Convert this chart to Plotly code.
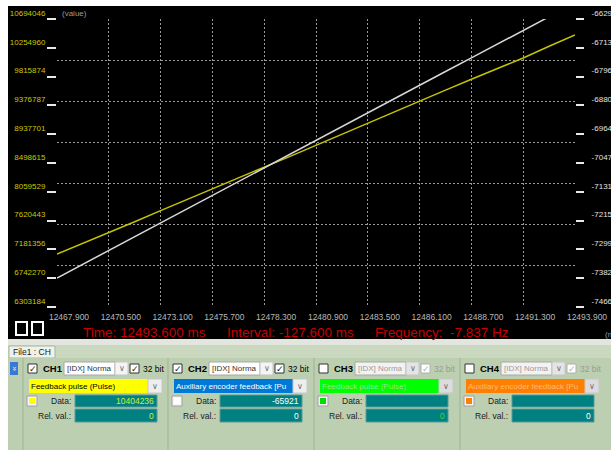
import plotly.graph_objects as go

# sample times (ms) and the two traced channels
time_ms = [12467.9, 12469.2, 12470.5, 12471.8, 12473.1, 12474.4, 12475.7, 12477.0,
           12478.3, 12479.6, 12480.9, 12482.2, 12483.5, 12484.8, 12486.1, 12487.4,
           12488.7, 12490.0, 12491.3, 12492.6, 12493.9]
ch1_pulse = [7111000, 7272000, 7440000, 7603000, 7772000, 7935000, 8101000, 8268000,
             8436000, 8600000, 8770000, 8933000, 9103000, 9270000, 9445000, 9610000,
             9775000, 9937000, 10100000, 10278000, 10450000]
ch2_aux = [-73821, -73420, -73010, -72625, -72225, -71820, -71420, -71025,
           -70620, -70225, -69825, -69420, -69020, -68625, -68225, -67820,
           -67425, -67025, -66625, -66225, -65830]

x_ticks = [12467.9, 12470.5, 12473.1, 12475.7, 12478.3, 12480.9,
           12483.5, 12486.1, 12488.7, 12491.3, 12493.9]
left_ticks = [6303184, 6742270, 7181356, 7620443, 8059529, 8498615,
              8937701, 9376787, 9815874, 10254960, 10694046]
right_ticks = [-74664, -73827, -72990, -72153, -71316, -70479,
               -69642, -68805, -67968, -67131, -66294]

# channel panel contents
channels = ["CH1", "CH2", "CH3", "CH4"]
signals = ["Feedback pulse (Pulse)", "Auxiliary encoder feedback [Pu",
           "Feedback pulse (Pulse)", "Auxiliary encoder feedback [Pu"]
data_vals = ["10404236", "-65921", "", ""]
rel_vals = ["0", "0", "0", "0"]
enabled = [True, True, False, False]

cursor_time = "Time: 12493.600 ms"
cursor_interval = "Interval: -127.600 ms"
cursor_freq = "-7.837 Hz"

# pixel -> paper helpers (plot area is 57..575 x 19..307)
L, R, T, B = 57, 575, 19, 307


def px(x):
    return (x - L) / (R - L)


def py(y):
    return (B - y) / (B - T)


shapes = []
annotations = []
FONT = "Liberation Sans"


def rect(x0, y0, x1, y1, fill, line=None, width=1):
    shapes.append(dict(type="rect", xref="paper", yref="paper", layer="below",
                       x0=px(x0), x1=px(x1), y0=py(y1), y1=py(y0), fillcolor=fill,
                       line=dict(color=line or fill, width=width if line else 0)))


def vline(x, y0, y1, color, width=1):
    shapes.append(dict(type="line", xref="paper", yref="paper", layer="below",
                       x0=px(x), x1=px(x), y0=py(y1), y1=py(y0),
                       line=dict(color=color, width=width)))


def text(x, y, s, size=8.5, color="#000000", anchor="left", bold=False, angle=0):
    annotations.append(dict(xref="paper", yref="paper", x=px(x), y=py(y),
                            text="<b>%s</b>" % s if bold else s, showarrow=False,
                            xanchor=anchor, yanchor="middle", textangle=angle,
                            font=dict(size=size, color=color, family=FONT)))


def checkbox(x, y, checked, disabled=False):
    rect(x, y, x + 9, y + 9, "#ffffff", "#b0b0b0" if disabled else "#333333")
    if checked:
        text(x + 4.5, y + 4.5, "✓", size=9, color="#b0b0b0" if disabled else "#222222",
             anchor="center")


# scope background and cursor read-out
rect(8, 6, 611, 339, "#000000")
rect(16, 322, 27, 335, "#000000", "#ffffff", 2)
rect(32, 322, 43, 335, "#000000", "#ffffff", 2)
text(60, 13, "(value)", size=8, color="#9a9a9a")
text(603, 334, "(ms)", size=8, color="#9a9a9a")
red = "#c80000"
text(81, 332, cursor_time, size=13.5, color=red)
text(225, 332, cursor_interval, size=13.5, color=red)
text(373, 332, "Frequency:", size=13.5, color=red)
text(448, 332, cursor_freq, size=13.5, color=red)

# tab strip and channel panel
panel = "#bccfb0"
rect(8, 339, 611, 345, "#e2e6de")
rect(8, 345, 611, 358, "#c9d8bf")
rect(9, 346, 55, 358, "#eef2ea", "#a8b8a0")
text(11, 352, "File1 : CH", size=8.5, color="#202020")
rect(8, 358, 611, 450, panel)
rect(10, 362, 18, 375, "#3a78d8")
text(14, 368.5, "»", size=8, color="#ffffff", anchor="center", angle=90)

bases = [23, 168, 314, 460]
sig_fill = ["#ffff00", "#0078d7", "#00ff00", "#ff8000"]
sig_text = ["#000000", "#ffffff", "#90e890", "#ffb878"]
swatch = ["#ffff00", "#ffffff", "#00e000", "#ff8000"]
val_color = ["#c8f040", "#ffffff", "#30e030", "#ffffff"]
teal = "#008080"

for i, name in enumerate(channels):
    b = bases[i]
    on = enabled[i]
    vline(b, 358, 450, "#9fb394")
    # row 1: enable, mode, 32 bit
    checkbox(b + 5, 364, checked=on)
    text(b + 18, 368.5, name, size=9.5, bold=True)
    rect(b + 41, 362, b + 92, 375, "#ffffff" if on else "#f2f2f2", "#a8a8a8")
    text(b + 42, 368.5, "[IDX] Norma", size=8, color="#333333" if on else "#9a9a9a")
    rect(b + 92, 362, b + 105, 375, "#f4f4f4" if on else "#e4e4e4", "#c4c4c4")
    text(b + 98.5, 368.5, "∨", size=8, color="#707070", anchor="center")
    checkbox(b + 107, 364, checked=True, disabled=not on)
    text(b + 118, 368.5, "32 bit", size=8.5, color="#000000" if on else "#9a9a9a")
    # row 2: signal selector
    rect(b + 6, 379, b + 125, 393, sig_fill[i])
    text(b + 6, 386, signals[i], size=8, color=sig_text[i])
    rect(b + 125, 379, b + 139, 393, "#eeeeee" if on else "#dcdcdc", "#c8c8c8")
    text(b + 132, 386, "∨", size=8, color="#707070", anchor="center")
    # row 3: data
    rect(b + 4, 396, b + 14, 406, "#f6f6f6", "#a0a0a0")
    rect(b + 6, 398, b + 12, 404, swatch[i])
    text(b + 50, 401, "Data:", size=8.5, color="#202020", anchor="right")
    rect(b + 52, 395, b + 134, 407, teal, "#5a9a9a")
    text(b + 133, 401, data_vals[i], size=8.5, color=val_color[i], anchor="right")
    # row 4: relative value
    text(b + 50, 415.5, "Rel. val.:", size=8.5, color="#202020", anchor="right")
    rect(b + 52, 409, b + 134, 422, teal, "#5a9a9a")
    text(b + 133, 415.5, rel_vals[i], size=8.5, color=val_color[i], anchor="right")

fig = go.Figure()
fig.add_trace(go.Scatter(x=time_ms, y=ch1_pulse, mode="lines", name="CH1",
                         line=dict(color="#c4c400", width=1.5)))
fig.add_trace(go.Scatter(x=time_ms, y=ch2_aux, mode="lines", name="CH2", yaxis="y2",
                         line=dict(color="#d8d8d8", width=1.5)))
fig.add_trace(go.Scatter(x=[], y=[], yaxis="y3", showlegend=False))

grid = dict(showgrid=True, gridcolor="#9a9a9a", gridwidth=1, griddash="2px,2px")

fig.update_layout(
    width=611, height=450,
    # autoexpand off: the clipped "(ms)" / right labels must not squeeze the plot
    margin=dict(l=L, r=611 - R, t=T, b=450 - B, pad=0, autoexpand=False),
    paper_bgcolor="#ffffff", plot_bgcolor="rgba(0,0,0,0)",
    showlegend=False,
    xaxis=dict(range=[x_ticks[0], x_ticks[-1]], tickvals=x_ticks,
               ticktext=["%.3f" % v for v in x_ticks], ticks="", zeroline=False,
               tickfont=dict(size=8.5, color="#b8b8b8", family=FONT),
               ticklabelshift=12, ticklabelstandoff=3, **grid),
    yaxis=dict(range=[left_ticks[0], left_ticks[-1]], tickvals=left_ticks,
               ticktext=[str(v) for v in left_ticks], showgrid=False, zeroline=False,
               ticks="outside", ticklen=9, tickwidth=2, tickcolor="#e8e8e8",
               tickfont=dict(size=8, color="#c8c800", family=FONT), ticklabelshift=-6),
    yaxis2=dict(range=[right_ticks[0], right_ticks[-1]], tickvals=right_ticks,
                ticktext=[str(v) for v in right_ticks], overlaying="y", side="right",
                showgrid=False, zeroline=False, ticks="outside", ticklen=8, tickwidth=2,
                tickcolor="#e8e8e8", tickfont=dict(size=8, color="#e0e0e0", family=FONT),
                ticklabelshift=-6, ticklabelstandoff=6, ticklabeloverflow="allow"),
    yaxis3=dict(range=[0, 7], dtick=1, overlaying="y", showticklabels=False,
                ticks="", zeroline=False, **grid),
    shapes=shapes, annotations=annotations,
)

# the page is photographed at exactly the figure size: no body margin, no scrollbars
fig.write_html("out.html", config={"displayModeBar": False},
               post_script="document.documentElement.style.overflow = 'hidden';"
                           "document.body.style.margin = '0';"
                           "document.body.style.overflow = 'hidden';")
